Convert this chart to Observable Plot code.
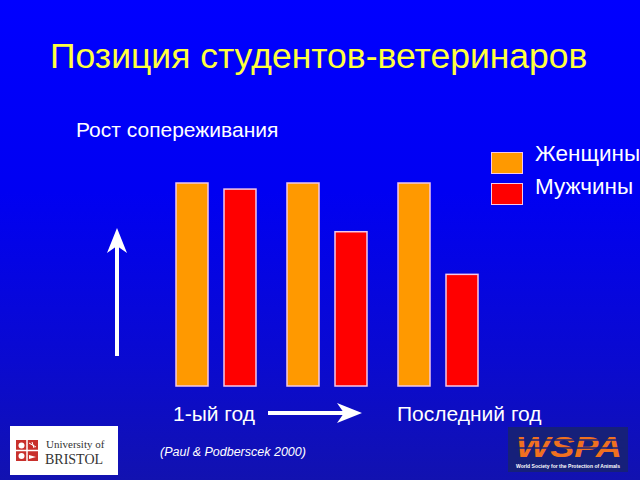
<!DOCTYPE html>
<html>
<head>
<meta charset="utf-8">
<script src="https://cdn.jsdelivr.net/npm/d3@7"></script>
<script src="https://cdn.jsdelivr.net/npm/@observablehq/plot@0.6"></script>
<style>
  html, body { margin: 0; padding: 0; }
  #slide {
    position: relative; width: 640px; height: 480px; overflow: hidden;
    background: linear-gradient(to bottom, #0000ff 0%, #0000f2 40%, #0a0ad0 75%, #1212b0 100%);
    font-family: "Liberation Sans", Arial, sans-serif;
  }
  #slide > * { position: absolute; }
  #chart { left: 0; top: 0; }
  .t { white-space: nowrap; line-height: 1; }
  #title { left: 50px; top: 39px; font-size: 35.5px; color: #ffff40; }
  #ylab { left: 76px; top: 119px; font-size: 21px; color: #fff; }
  .sw { width: 30px; height: 20px; border: 1px solid #f4c8e8; left: 491px; }
  .lt { left: 535px; font-size: 22.5px; color: #fff; }
  #x1 { left: 173px; top: 403px; font-size: 21px; color: #fff; }
  #x2 { left: 397px; top: 403px; font-size: 21px; color: #fff; }
  #cite { left: 160px; top: 446px; font-size: 12.5px; font-style: italic; color: #fff; }
  #bristol { left: 10px; top: 426px; width: 108px; height: 49px; background: #fff; }
  #wspa { left: 508px; top: 427px; width: 120px; height: 45px; background: #16207a; }
</style>
</head>
<body>
<div id="slide">
  <div id="chart"></div>
  <div id="title" class="t">Позиция студентов-ветеринаров</div>
  <div id="ylab" class="t"></div>
  <div id="legend"></div>
  <div id="x1" class="t"></div>
  <div id="x2" class="t"></div>
  <svg id="arrows" width="640" height="480" style="left:0;top:0">
    <line x1="117" y1="356" x2="117" y2="245" stroke="#fff" stroke-width="4"/>
    <path d="M117,228 L127,253 L117,246 L107,253 Z" fill="#fff"/>
    <line x1="268" y1="413" x2="345" y2="413" stroke="#fff" stroke-width="4"/>
    <path d="M362,413 L337,423 L344,413 L337,403 Z" fill="#fff"/>
  </svg>
  <div id="cite" class="t">(Paul &amp; Podberscek 2000)</div>
  <div id="bristol">
    <svg width="108" height="49">
      <rect x="6" y="14" width="22" height="21" fill="#c8302c"/>
      <line x1="17" y1="14" x2="17" y2="35" stroke="#fff" stroke-width="1.5"/>
      <line x1="6" y1="24.5" x2="28" y2="24.5" stroke="#fff" stroke-width="1.5"/>
      <circle cx="11.5" cy="19.5" r="3" fill="#fff"/>
      <circle cx="11.5" cy="30" r="3" fill="#fff"/>
      <path d="M19,29 L26,31 L19,33 Z" fill="#fff"/>
      <path d="M19,17 L26,21 M22,16 L24,22" stroke="#fff" stroke-width="1"/>
      <text x="36" y="22" font-family="Liberation Serif, serif" font-size="11" fill="#333">University of</text>
      <text x="35" y="38" font-family="Liberation Serif, serif" font-size="14" fill="#333">BRISTOL</text>
    </svg>
  </div>
  <div id="wspa">
    <svg width="120" height="45">
      <text x="61" y="30" text-anchor="middle" font-family="Liberation Sans, Arial, sans-serif" font-weight="bold" font-style="italic" font-size="30" fill="#f07020" textLength="106" lengthAdjust="spacingAndGlyphs">WSPA</text>
      <line x1="6" y1="13" x2="116" y2="13" stroke="#16207a" stroke-width="1.5"/>
      <line x1="6" y1="21" x2="116" y2="21" stroke="#16207a" stroke-width="1.5"/>
      <text x="60" y="41" text-anchor="middle" font-family="Liberation Sans, Arial, sans-serif" font-weight="bold" font-size="5.5" fill="#fff" textLength="104" lengthAdjust="spacingAndGlyphs">World Society for the Protection of Animals</text>
    </svg>
  </div>
</div>
<script>
// Data
const stages = ["Этап 1", "Этап 2", "Этап 3"];
const seriesNames = ["Женщины", "Мужчины"];
const women = [100, 100, 100];
const men = [97, 76, 55];
const seriesColors = ["#ff9900", "#ff0000"];
const axisLabels = ["1-ый год", "Последний год"];
const yLabel = "Рост сопереживания";

const table = stages.flatMap((s, i) => [
  {stage: s, sex: seriesNames[0], value: women[i]},
  {stage: s, sex: seriesNames[1], value: men[i]}
]);

const plot = Plot.plot({
  width: 640,
  height: 480,
  marginLeft: 176,
  marginRight: 160,
  marginTop: 183,
  marginBottom: 94,
  style: {background: "transparent", overflow: "visible"},
  facet: {data: table, x: "stage"},
  fx: {domain: stages, paddingInner: 0.27, paddingOuter: 0, axis: null, label: null},
  x: {domain: seriesNames, paddingInner: 0.333, paddingOuter: 0, axis: null, label: null},
  y: {domain: [0, 100], axis: null},
  color: {domain: seriesNames, range: seriesColors},
  marks: [
    Plot.barY(table, {x: "sex", y: "value", fill: "sex", stroke: "#f4c8e8", strokeWidth: 1.5})
  ]
});
document.getElementById("chart").appendChild(plot);

// Legend
const legend = document.getElementById("legend");
seriesNames.forEach((name, i) => {
  const sw = document.createElement("div");
  sw.className = "sw";
  sw.style.position = "absolute";
  sw.style.top = (152 + i * 31) + "px";
  sw.style.background = seriesColors[i];
  legend.appendChild(sw);
  const t = document.createElement("div");
  t.className = "t lt";
  t.style.position = "absolute";
  t.style.top = (143 + i * 33) + "px";
  t.textContent = name;
  legend.appendChild(t);
});
document.getElementById("x1").textContent = axisLabels[0];
document.getElementById("x2").textContent = axisLabels[1];
document.getElementById("ylab").textContent = yLabel;
</script>
</body>
</html>
